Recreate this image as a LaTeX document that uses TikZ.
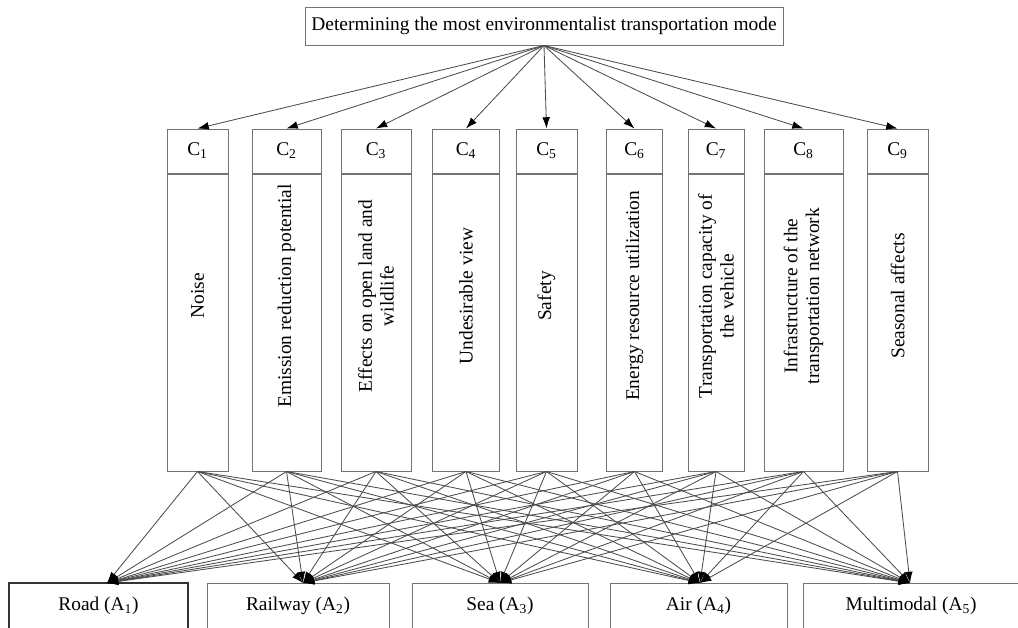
\documentclass[tikz,border=0pt]{standalone}
\usepackage{fontspec}
\setmainfont{Liberation Serif}
\usetikzlibrary{arrows.meta,positioning,calc}

\begin{document}
\begin{tikzpicture}[
    x=0.025cm, y=-0.025cm,
    every node/.style={font=\fontsize{13.8}{15.5}\selectfont},
    box/.style={rectangle, draw=black!55, line width=0.7pt, inner sep=0pt},
    goalbox/.style={box, minimum width=478*0.025cm, minimum height=38*0.025cm},
    headbox/.style={box, minimum height=44*0.025cm},
    bodybox/.style={box, minimum height=297*0.025cm, anchor=north},
    altbox/.style={box, minimum height=46*0.025cm},
    vlabel/.style={rotate=90, align=center, inner sep=0pt},
    arrow/.style={draw=black!70, line width=0.6pt, -{Latex[length=8pt,width=5.5pt,color=black]}}
]
    \useasboundingbox (0,0) rectangle (1018,627);

    % goal
    \node[goalbox] (goal) at (544,26) {Determining the most environmentalist transportation mode};

    % criteria
    \foreach \i/\cx/\w/\txt in {
        1/197.5/61/{Noise},
        2/286.5/69/{Emission reduction potential},
        3/376/70/{Effects on open land and\\wildlife},
        4/466/67/{Undesirable view},
        5/546.5/61/{Safety},
        6/634.5/56/{Energy resource utilization},
        7/716/56/{Transportation capacity of\\the vehicle},
        8/803.5/79/{Infrastructure of the\\transportation network},
        9/897.5/61/{Seasonal affects}}{
        \node[headbox, minimum width=\w*0.025cm] (c\i) at (\cx,151) {C\textsubscript{\i}};
        \node[bodybox, minimum width=\w*0.025cm] (b\i) at (c\i.south) {};
        \node[vlabel] (l\i) at (\cx,296) {\txt};
        \draw[arrow] (goal.south) -- (c\i.north);
    }

    % alternatives
    \node[altbox, minimum width=179*0.025cm, draw=black!80, line width=0.9pt] (a1) at (98.5,606) {Road (A\textsubscript{1})};
    \node[altbox, minimum width=182*0.025cm] (a2) at (298,606) {Railway (A\textsubscript{2})};
    \node[altbox, minimum width=176*0.025cm] (a3) at (500,606) {Sea (A\textsubscript{3})};
    \node[altbox, minimum width=177*0.025cm] (a4) at (698.5,606) {Air (A\textsubscript{4})};
    \node[altbox, minimum width=216*0.025cm] (a5) at (911,606) {Multimodal (A\textsubscript{5})};

    \coordinate (t1) at (107,583);
    \coordinate (t2) at (303,583);
    \coordinate (t3) at (500,583);
    \coordinate (t4) at (700,583);
    \coordinate (t5) at (910,583);

    \foreach \i in {1,...,9}
        \foreach \j in {1,...,5}
            \draw[arrow] (b\i.south) -- (t\j);
\end{tikzpicture}
\end{document}
